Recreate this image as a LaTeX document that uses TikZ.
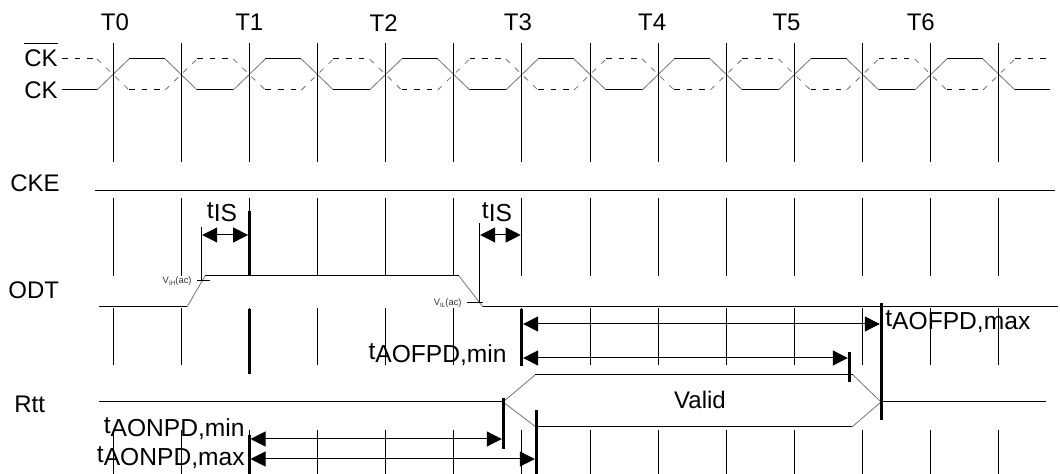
\documentclass[tikz,border=0pt]{standalone}
\usepackage{fontspec}
\setmainfont{Liberation Sans}
\usetikzlibrary{arrows.meta}
\tikzset{>=stealth}
\tikzset{
  sig/.style={line width=0.5pt},
  edge/.style={line width=0.4pt, black!55},
  clkn/.style={dash pattern=on 2.8pt off 3.5pt},
  gridln/.style={line width=0.5pt},
  bar/.style={line width=1.5pt},
  dim/.style={line width=0.5pt, {Triangle[length=7.5pt,width=7.5pt]}-{Triangle[length=7.5pt,width=7.5pt]}, shorten <=0.6pt, shorten >=0.6pt},
  lbl/.style={inner sep=0pt, font=\fontsize{12}{14}\selectfont},
  tlbl/.style={inner sep=0pt, font=\fontsize{12.3}{14}\selectfont},
  vlbl/.style={inner sep=0pt, text=black!80, font=\fontsize{4.7}{5}\selectfont},
}
\newcommand\tlab[1]{\raisebox{1.8pt}{t}#1}
\newcommand\vlab[1]{V\raisebox{-0.6pt}{\fontsize{3.2}{4}\selectfont #1}(ac)}

\begin{document}
\begin{tikzpicture}[x=0.5pt,y=-0.5pt]
      \useasboundingbox (0,0) rectangle (1060,474);
      % clock, grid
      \draw[sig] (62,90) -- (97,90);
      \draw[sig,clkn] (62,59) -- (97,59);
      \foreach \i in {0,...,13} {
        \pgfmathsetmacro\ex{113+\i*68.15}
        \pgfmathsetmacro\fx{(\i<13) ? (\ex+52.15) : 1050}
        \ifodd\i \def\ya{59}\def\yb{90}\else \def\ya{90}\def\yb{59}\fi
        \coordinate (e\i) at (\ex,0);
        \draw[edge] (\ex-16,\ya) -- (\ex+16,\yb);
        \draw[edge,clkn] (\ex-16,\yb) -- (\ex+16,\ya);
        \draw[sig] (\ex+16,\yb) -- (\fx,\yb);
        \draw[sig,clkn] (\ex+16,\ya) -- (\fx,\ya);
        \draw[gridln] (\ex,43) -- (\ex,162) (\ex,198) -- (\ex,276)
                      (\ex,308) -- (\ex,365) (\ex,430) -- (\ex,474);
      }
      \foreach \k in {0,...,6}
        \node[lbl] (T\k) at (115+\k*134.3,22.7) {T\k};
      % signal names
      \node[lbl,anchor=east] (ckn) at (58,58.7) {CK};
      \draw[line width=0.6pt] ([yshift=3.3pt]ckn.north west) -- ([yshift=3.3pt]ckn.north east);
      \node[lbl,anchor=east] (ck) at (58,90.3) {CK};
      \node[lbl,anchor=west] (cke) at (10,183) {CKE};
      \node[lbl,anchor=west] (odt) at (8,290) {ODT};
      \node[lbl,anchor=west] (rtt) at (14,404) {Rtt};
      % CKE
      \draw[sig] (95,191) -- (1055,191);
      % ODT
      \draw[sig] (99,307) -- (187,307);
      \draw[edge] (187,307) -- (205,276);
      \draw[sig] (205,276) -- (459,276);
      \draw[edge] (459,276) -- (483,307);
      \draw[sig] (483,307) -- (1058,307);
      \draw[sig] (201,227) -- (201,281) (197,281) -- (210,281);
      \draw[sig] (479,223) -- (479,303) (467,303) -- (483,303);
      \node[vlbl,anchor=base east] (vih) at (192,284) {\vlab{IH}};
      \node[vlbl,anchor=base east] (vil) at (462,306) {\vlab{IL}};
      % Rtt
      \draw[sig] (99,402) -- (503,402);
      \draw[edge] (503,402) -- (535,375) (503,402) -- (536,427);
      \draw[sig] (535,375) -- (853,375) (536,427) -- (852,427);
      \draw[edge] (853,375) -- (881,402) (852,427) -- (881,402);
      \draw[sig] (881,402) -- (1046,402);
      \node[lbl] (valid) at (700,400) {Valid};
      % reference bars
      \draw[bar] (249.3,211) -- (249.3,276) (249.3,309) -- (249.3,374) (249.3,435) -- (249.3,474);
      \draw[bar] (521.9,309) -- (521.9,366);
      \draw[bar] (849,352) -- (849,382);
      \draw[bar] (881,303) -- (881,420);
      \draw[bar] (503,398) -- (503,449);
      \draw[bar] (536,410) -- (536,474);
      % timing arrows
      \coordinate (is1a) at (201,235);   \coordinate (is1b) at (249.3,235);
      \coordinate (is2a) at (479,235);   \coordinate (is2b) at (521.9,235);
      \coordinate (ofxa) at (521.9,324); \coordinate (ofxb) at (881,324);
      \coordinate (ofna) at (521.9,358); \coordinate (ofnb) at (849,358);
      \coordinate (onna) at (249.3,439); \coordinate (onnb) at (503,439);
      \coordinate (onxa) at (249.3,459); \coordinate (onxb) at (536,459);
      \draw[dim] (is1a) -- (is1b);
      \draw[dim] (is2a) -- (is2b);
      \draw[dim] (ofxa) -- (ofxb);
      \draw[dim] (ofna) -- (ofnb);
      \draw[dim] (onna) -- (onnb);
      \draw[dim] (onxa) -- (onxb);
      \node[tlbl,anchor=base] (tis1) at (222,222) {\raisebox{1.5pt}{t}IS};
      \node[tlbl,anchor=base] (tis2) at (497,222) {\raisebox{1.5pt}{t}IS};
      \node[tlbl,anchor=base west] (tofx) at (885,330) {\tlab{AOFPD,max}};
      \node[tlbl,anchor=base east] (tofn) at (507,363) {\tlab{AOFPD,min}};
      \node[tlbl,anchor=base east] (tonn) at (245,437) {\tlab{AONPD,min}};
      \node[tlbl,anchor=base east] (tonx) at (245,466) {\tlab{AONPD,max}};
    \end{tikzpicture}
\end{document}
